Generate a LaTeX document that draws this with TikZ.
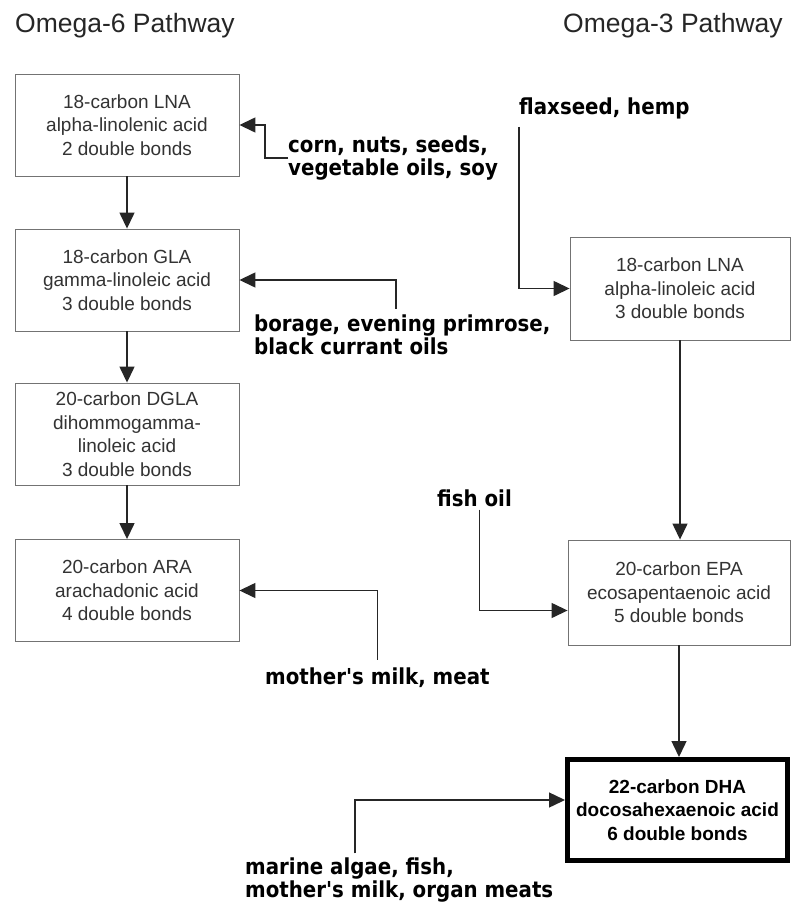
\documentclass[tikz,border=0pt]{standalone}
\usepackage{fontspec}
\setmainfont{Liberation Sans}
\newfontfamily\srcfont{DejaVu Sans}[FakeStretch=0.9]
\usetikzlibrary{arrows.meta}
\tikzset{
  >={Triangle[length=16pt,width=15pt]},
  acidbox/.style={draw=black!55,line width=0.9pt,minimum width=224pt,minimum height=102pt,
    inner sep=0pt,align=center,text=black!80,font=\fontsize{19}{23.5}\selectfont},
  dhabox/.style={acidbox,draw=black,line width=5pt,text=black,font=\fontsize{19}{23.5}\selectfont\bfseries},
  source/.style={inner sep=0pt,align=left,anchor=west,font=\srcfont\bfseries\fontsize{22}{23.5}\selectfont},
  pathtitle/.style={inner sep=0pt,anchor=base west,text=black!85,font=\fontsize{26.5}{30}\selectfont},
  feed/.style={->,line width=1.4pt,draw=black!85}
}
\begin{document}
\begin{tikzpicture}[x=1pt,y=-1pt]
\fill[white] (0,0) rectangle (791,907);
\useasboundingbox (0,0) rectangle (791,907);

\node[pathtitle] (t6) at (15,33) {Omega-6 Pathway};
\node[pathtitle] (t3) at (563,33) {Omega-3 Pathway};

\node[acidbox] (lnaL) at (127,125) {18-carbon LNA\\alpha-linolenic acid\\2 double bonds};
\node[acidbox] (glaL) at (127,280) {18-carbon GLA\\gamma-linoleic acid\\3 double bonds};
\node[acidbox] (dglaL) at (127,434) {20-carbon DGLA\\dihommogamma-\\linoleic acid\\3 double bonds};
\node[acidbox] (araL) at (127,590.5) {20-carbon ARA\\arachadonic acid\\4 double bonds};
\node[acidbox,minimum width=220pt,minimum height=103pt] (lnaR) at (680,288.5) {18-carbon LNA\\alpha-linoleic acid\\3 double bonds};
\node[acidbox,minimum width=222pt,minimum height=105pt] (epa) at (679,592.5) {20-carbon EPA\\ecosapentaenoic acid\\5 double bonds};
\node[dhabox,minimum width=220pt,minimum height=101pt] (dha) at (677.5,810) {22-carbon DHA\\docosahexaenoic acid\\6 double bonds};

\node[source] (corn) at (288,158) {corn, nuts, seeds,\\vegetable oils, soy};
\node[source] (flax) at (519,108) {flaxseed, hemp};
\node[source] (borage) at (254,335) {borage, evening primrose,\\black currant oils};
\node[source] (fish) at (437,498) {fish oil};
\node[source] (mom) at (265,678) {mother's milk, meat};
\node[source] (marine) at (245,880) {marine algae, fish,\\mother's milk, organ meats};

\draw[feed] (lnaL) -- (glaL);
\draw[feed] (glaL) -- (dglaL);
\draw[feed] (dglaL) -- (araL);
\draw[feed] (lnaR.south) -- (lnaR.south |- epa.north);
\draw[feed] (epa.south) -- (epa.south |- dha.north);
\draw[feed] (corn.west) -- ++(-23,0) |- (lnaL.east);
\draw[feed] ([xshift=142pt,yshift=6pt]borage.north west) |- (glaL.east);
\draw[feed] ([yshift=-8pt]flax.south west) |- (lnaR.west);
\draw[feed] ([xshift=5pt,yshift=-3pt]fish.south) |- ([yshift=-18pt]epa.west);
\draw[feed] ([yshift=8pt]mom.north) |- (araL.east);
\draw[feed] ([xshift=110pt,yshift=4pt]marine.north west) |- ([yshift=10pt]dha.west);

\end{tikzpicture}
\end{document}
